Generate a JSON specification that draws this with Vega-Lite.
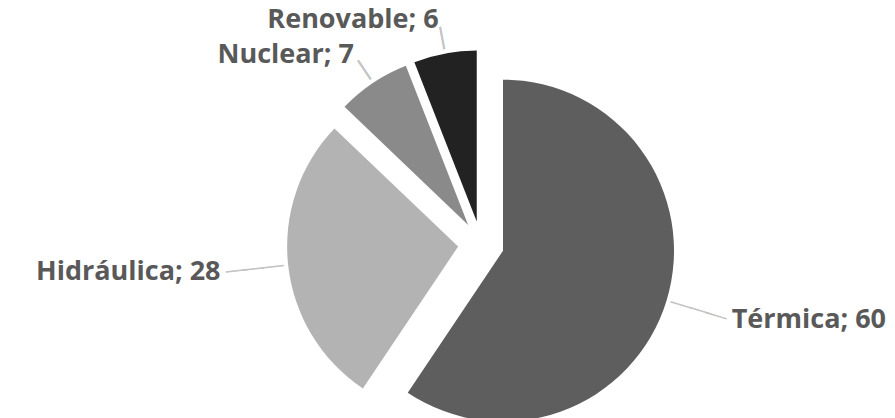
{
  "$schema": "https://vega.github.io/schema/vega-lite/v6.json",
  "width": 828,
  "height": 348,
  "autosize": "none",
  "padding": {"left": 67, "top": 70, "right": 0, "bottom": 0},
  "background": "white",
  "view": {"stroke": null},
  "data": {
    "values": [
      {"category": "Térmica", "value": 60, "idx": 1, "label": "Térmica; 60"},
      {"category": "Hidráulica", "value": 28, "idx": 2, "label": "Hidráulica; 28"},
      {"category": "Nuclear", "value": 7, "idx": 3, "label": "Nuclear; 7"},
      {"category": "Renovable", "value": 6, "idx": 4, "label": "Renovable; 6"}
    ]
  },
  "encoding": {
    "theta": {"field": "value", "type": "quantitative", "stack": true},
    "order": {"field": "idx", "type": "quantitative", "sort": "ascending"}
  },
  "layer": [
    {
      "mark": {
        "type": "arc",
        "radius": 171,
        "xOffset": {"expr": "23*sin(scale('theta',(datum.value_start+datum.value_end)/2))"},
        "yOffset": {"expr": "-23*cos(scale('theta',(datum.value_start+datum.value_end)/2))"}
      },
      "encoding": {
        "color": {
          "field": "category",
          "type": "nominal",
          "scale": {"domain": ["Térmica", "Hidráulica", "Nuclear", "Renovable"], "range": ["#5e5e5e", "#b3b3b3", "#8a8a8a", "#222222"]},
          "legend": null
        }
      }
    },
    {
      "mark": {
        "type": "text",
        "radius": 209,
        "text": "│",
        "font": "DejaVu Sans Mono",
        "fontSize": 19,
        "color": "#c4c4c4",
        "align": "center",
        "baseline": "middle",
        "angle": {"expr": "scale('theta',(datum.value_start+datum.value_end)/2)*180/PI"}
      },
      "encoding": {"detail": {"field": "category", "type": "nominal"}}
    },
    {
      "mark": {
        "type": "text",
        "radius": {"expr": "cos(scale('theta',(datum.value_start+datum.value_end)/2)) < 0 ? 229 : 209"},
        "text": "│",
        "font": "DejaVu Sans Mono",
        "fontSize": 19,
        "color": "#c4c4c4",
        "align": "center",
        "baseline": "middle",
        "angle": {"expr": "scale('theta',(datum.value_start+datum.value_end)/2)*180/PI"}
      },
      "encoding": {"detail": {"field": "category", "type": "nominal"}}
    },
    {
      "mark": {
        "type": "text",
        "radius": {"expr": "cos(scale('theta',(datum.value_start+datum.value_end)/2)) < 0 ? 245 : 209"},
        "text": "│",
        "font": "DejaVu Sans Mono",
        "fontSize": 19,
        "color": "#c4c4c4",
        "align": "center",
        "baseline": "middle",
        "angle": {"expr": "scale('theta',(datum.value_start+datum.value_end)/2)*180/PI"}
      },
      "encoding": {"detail": {"field": "category", "type": "nominal"}}
    },
    {
      "mark": {
        "type": "text",
        "radius": {"expr": "cos(scale('theta',(datum.value_start+datum.value_end)/2)) < 0 ? 262 : 228"},
        "font": "Open Sans",
        "fontWeight": "bold",
        "fontSize": 27,
        "color": "#595959",
        "baseline": "middle",
        "align": {"expr": "sin(scale('theta',(datum.value_start+datum.value_end)/2)) > 0 ? 'left' : 'right'"}
      },
      "encoding": {
        "detail": {"field": "category", "type": "nominal"},
        "text": {"field": "label", "type": "nominal"}
      }
    }
  ]
}
